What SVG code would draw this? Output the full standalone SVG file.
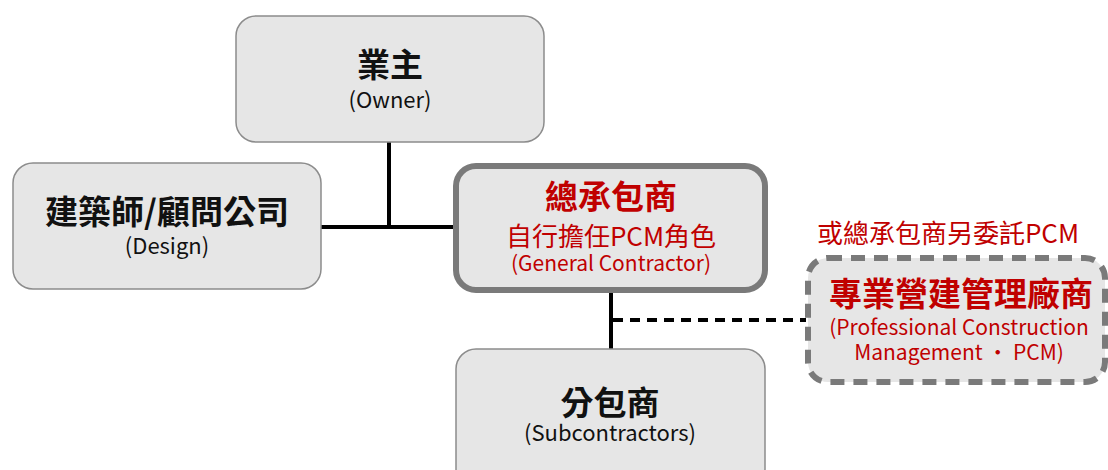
<svg xmlns="http://www.w3.org/2000/svg" width="1108" height="470" viewBox="0 0 1108 470">
<style>
.box{fill:#e6e6e6;stroke:#8c8c8c;stroke-width:1.5}
.hbox{fill:#e6e6e6;stroke:#7a7a7a;stroke-width:6}
.dbox{fill:#e6e6e6;stroke:#7a7a7a;stroke-width:6;stroke-dasharray:14 9}
.ln{stroke:#000;stroke-width:4;stroke-linecap:round;fill:none}
.dl{stroke:#000;stroke-width:4;stroke-dasharray:10 7;fill:none}
text{font-family:"Noto Sans CJK TC","Noto Sans",sans-serif;text-anchor:middle}
.t{font-size:33px;font-weight:bold;fill:#111}
.s{font-size:22px;fill:#111}
.rt{font-size:33px;font-weight:bold;fill:#c00000}
.rm{font-size:26px;fill:#c00000}
.rs{font-size:21px;fill:#c00000}
</style>
<g id="connectors">
<line class="ln" x1="389" y1="142" x2="389" y2="227"/>
<line class="ln" x1="320" y1="227" x2="456" y2="227"/>
<line class="ln" x1="611" y1="293" x2="611" y2="349"/>
<line class="dl" x1="613" y1="320" x2="806" y2="320"/>
</g>
<g id="owner">
<rect class="box" x="236" y="16" width="308" height="126" rx="20"/>
<text class="t" x="390" y="77">業主</text>
<text class="s" x="390" y="108">(Owner)</text>
</g>
<g id="design">
<rect class="box" x="13" y="163" width="308" height="126" rx="20"/>
<text class="t" x="167" y="224">建築師/顧問公司</text>
<text class="s" x="167" y="254">(Design)</text>
</g>
<g id="gc">
<rect class="hbox" x="456" y="166" width="309" height="124" rx="20"/>
<text class="rt" x="611" y="209">總承包商</text>
<text class="rm" x="611" y="246">自行擔任PCM角色</text>
<text class="rs" x="611" y="271">(General Contractor)</text>
</g>
<g id="pcm">
<text class="rm" x="948" y="243">或總承包商另委託PCM</text>
<rect class="dbox" x="808" y="258" width="297" height="124" rx="20"/>
<text class="rt" x="961" y="306">專業營建管理廠商</text>
<text class="rs" x="959" y="335">(Professional Construction</text>
<text class="rs" x="959" y="360">Management · PCM)</text>
</g>
<g id="sub">
<rect class="box" x="456" y="349" width="309" height="140" rx="20"/>
<text class="t" x="610" y="415">分包商</text>
<text class="s" x="610" y="441">(Subcontractors)</text>
</g>
</svg>
